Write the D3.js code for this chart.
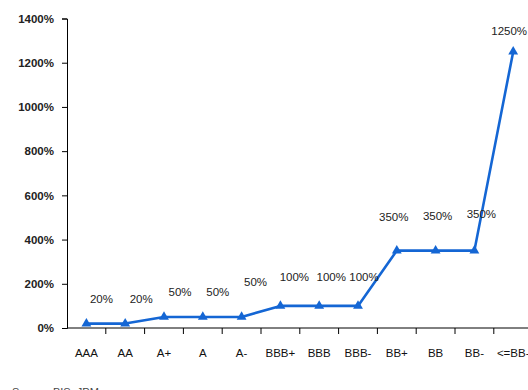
<!DOCTYPE html>
<html><head><meta charset="utf-8">
<script src="https://cdn.jsdelivr.net/npm/d3@7"></script>
<style>body{margin:0;background:#fff;} svg{display:block;font-family:"Liberation Sans",Arial,sans-serif;}</style>
</head><body>
<svg id="c" width="528" height="390"></svg>
<script>
const categories = ["AAA","AA","A+","A","A-","BBB+","BBB","BBB-","BB+","BB","BB-","<=BB-"];
const riskWeights = [20,20,50,50,50,100,100,100,350,350,350,1250];
const valueLabels = ["20%","20%","50%","50%","50%","100%","100%","100%","350%","350%","350%","1250%"];
const yTicks = [0,200,400,600,800,1000,1200,1400];
const sourceNote = "Source: BIS, JPM";

// label placement offsets (layout, px)
const labelDx = [15,16,16,15,14,14,12,6,-3,2,7,-4];
const labelDy = [-25,-25,-25,-25,-35,-29,-29,-29,-34,-35,-37,-21];

const svg = d3.select("#c");
const x = d3.scaleBand().domain(categories).range([67, 67 + 12*38.8]).padding(0);
const y = d3.scaleLinear().domain([0,1400]).range([328, 18.5]);

// y axis
const ya = svg.append("g").attr("transform","translate(67,0)")
  .call(d3.axisLeft(y).tickValues(yTicks).tickSize(5).tickPadding(8).tickFormat(d=>d+"%"));
ya.selectAll("text").attr("font-size",11.5).attr("font-weight","bold").attr("fill","#222")
  .attr("font-family","Liberation Sans, Arial, sans-serif");
ya.selectAll("line,path").attr("stroke","#000");

// x axis
const xa = svg.append("g").attr("transform","translate(0,328)");
xa.append("line").attr("x1",67).attr("x2",528).attr("y1",0).attr("y2",0).attr("stroke","#000");
xa.selectAll("line.t").data(categories.slice(1)).join("line").attr("class","t")
  .attr("x1",d=>x(d)).attr("x2",d=>x(d)).attr("y1",0).attr("y2",6).attr("stroke","#000");
xa.selectAll("text").data(categories).join("text")
  .attr("x",d=>x(d)+x.bandwidth()/2).attr("y",29).attr("text-anchor","middle")
  .attr("font-size",11.5).attr("fill","#111").text(d=>d);

// line
const pts = categories.map((c,i)=>({c, v:riskWeights[i], lab:valueLabels[i], i}));
const line = d3.line().x(d=>x(d.c)+x.bandwidth()/2).y(d=>y(d.v));
svg.append("path").datum(pts).attr("d",line).attr("fill","none")
  .attr("stroke","#1466d4").attr("stroke-width",2.6).attr("stroke-linejoin","round");
const tri = d3.symbol().type(d3.symbolTriangle).size(42);
svg.selectAll("path.m").data(pts).join("path").attr("class","m")
  .attr("d",tri).attr("fill","#1466d4")
  .attr("transform",d=>`translate(${x(d.c)+x.bandwidth()/2},${y(d.v)})`);

// labels
svg.selectAll("text.lab").data(pts).join("text").attr("class","lab")
  .attr("x",d=>x(d.c)+x.bandwidth()/2+labelDx[d.i])
  .attr("y",d=>y(d.v)+labelDy[d.i]+4)
  .attr("text-anchor","middle").attr("font-size",11.5).attr("fill","#222").text(d=>d.lab);

svg.append("text").attr("x",12).attr("y",396).attr("font-size",11).attr("fill","#444").text(sourceNote);
</script>
</body></html>
